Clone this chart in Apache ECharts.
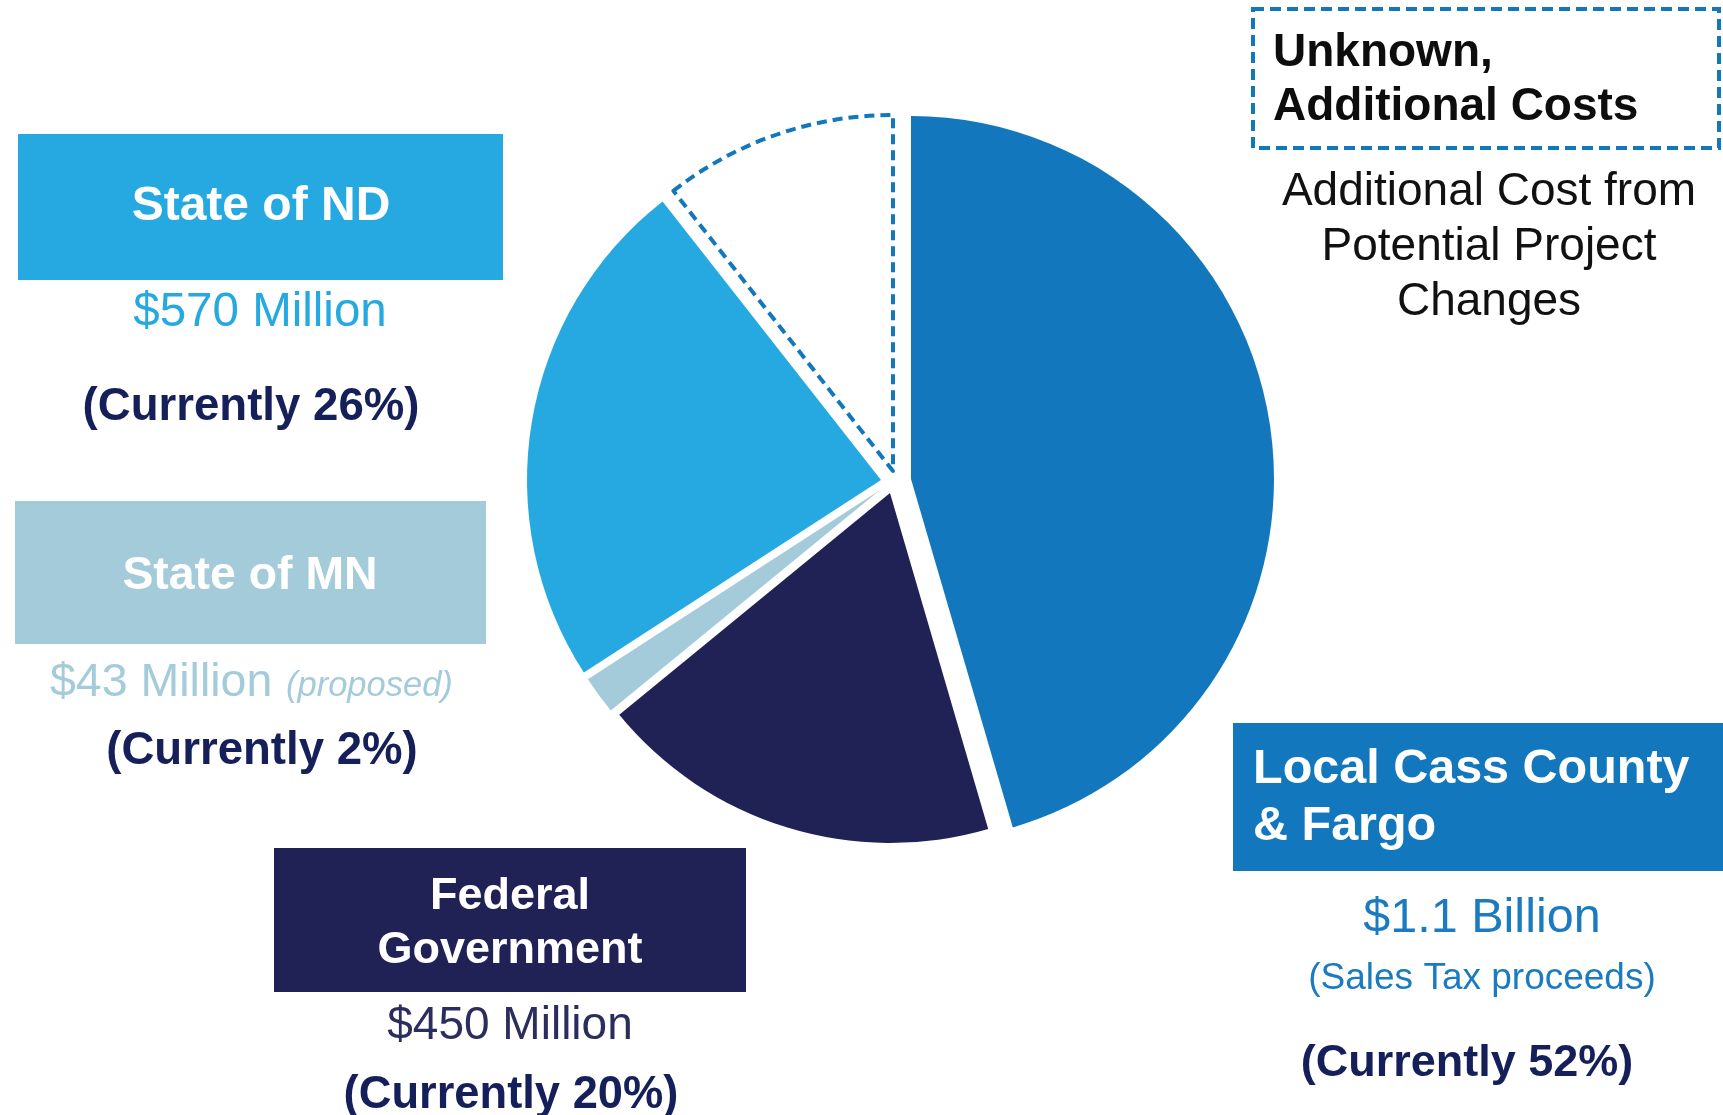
<!DOCTYPE html>
<html>
<head>
<meta charset="utf-8">
<script src="https://cdn.jsdelivr.net/npm/echarts@6/dist/echarts.min.js"></script>
<style>
  html, body { margin: 0; padding: 0; background: #ffffff; }
  #chart { width: 1723px; height: 1115px; }
</style>
</head>
<body>
<div id="chart"></div>
<script>
// ---- Data ----
const categories = ['Local Cass County & Fargo', 'Federal Government', 'State of MN', 'State of ND', 'Unknown, Additional Costs'];
// Funding in millions of dollars; the unknown slice is an estimate of its drawn share
const amountsMillions = [1100, 450, 43, 570, 256];
const boxTitles = ['Local Cass County\n& Fargo', 'Federal\nGovernment', 'State of MN', 'State of ND'];
const amountLabels = ['$1.1 Billion', '$450 Million', '$43 Million', '$570 Million'];
const currentShares = [52, 20, 2, 26];
const unknownTitle = 'Unknown,\nAdditional Costs';
const unknownNote = 'Additional Cost from\nPotential Project\nChanges';

// ---- Styles ----
const FONT = '"Liberation Sans", Arial, Helvetica, sans-serif';
const C_LOCAL = '#1277BD';
const C_FED = '#202256';
const C_MN = '#A4CBDA';
const C_ND = '#25A9E0';
const C_NAVY = '#151F5A';
const sliceColors = [C_LOCAL, C_FED, C_MN, C_ND, '#ffffff'];
// exploded-slice geometry (centre and radius of each drawn piece)
const sliceGeom = [
  { center: [911, 479], r: 363 },
  { center: [890, 493], r: 350 },
  { center: [880, 490], r: 348 },
  { center: [881, 480], r: 354 },
  { center: [893, 471], r: 356 }
];

function sliceStyle(i) {
  return i === 4
    ? { color: '#ffffff', borderColor: C_LOCAL, borderWidth: 4, borderType: [10, 6] }
    : { color: sliceColors[i], borderWidth: 0 };
}

// one pie per exploded piece; each uses the full data so the angles come from the values
const pieSeries = categories.map((_, k) => ({
  type: 'pie',
  center: sliceGeom[k].center,
  radius: [0, sliceGeom[k].r],
  startAngle: 90,
  clockwise: true,
  silent: true,
  label: { show: false },
  labelLine: { show: false },
  emphasis: { disabled: true },
  z: k === 4 ? 3 : 2,
  data: categories.map((name, i) => ({
    name: name,
    value: amountsMillions[i],
    itemStyle: i === k ? sliceStyle(i) : { color: 'rgba(0,0,0,0)', borderWidth: 0 }
  }))
}));

function txt(x, y, text, opts) {
  return {
    type: 'text',
    x: x, y: y,
    silent: true,
    style: Object.assign({
      text: text,
      fontFamily: FONT,
      fontSize: 46,
      fontWeight: 'normal',
      fill: '#000',
      align: 'center',
      verticalAlign: 'middle'
    }, opts)
  };
}
function box(x, y, w, h, fill) {
  return { type: 'rect', silent: true, shape: { x: x, y: y, width: w, height: h }, style: { fill: fill } };
}

const graphics = [
  // State of ND
  box(18, 134, 485, 146, C_ND),
  txt(261, 207, boxTitles[3], { fill: '#fff', fontWeight: 'bold', fontSize: 48 }),
  txt(260, 313, amountLabels[3], { fill: C_ND, fontSize: 47.5 }),
  txt(251, 407, '(Currently ' + currentShares[3] + '%)', { fill: C_NAVY, fontWeight: 'bold', fontSize: 45.6 }),
  // State of MN
  box(15, 501, 471, 143, C_MN),
  txt(250, 576, boxTitles[2], { fill: '#fff', fontWeight: 'bold', fontSize: 46.4 }),
  txt(50, 683, amountLabels[2], { fill: C_MN, fontSize: 46.5, align: 'left' }),
  txt(286, 686, '(proposed)', { fill: C_MN, fontSize: 34.5, fontStyle: 'italic', align: 'left' }),
  txt(262, 751, '(Currently ' + currentShares[2] + '%)', { fill: C_NAVY, fontWeight: 'bold', fontSize: 45.6 }),
  // Federal
  box(274, 848, 472, 144, C_FED),
  txt(510, 924, boxTitles[1], { fill: '#fff', fontWeight: 'bold', fontSize: 45, lineHeight: 54 }),
  txt(510, 1026, amountLabels[1], { fill: '#2B2D5C', fontSize: 46 }),
  txt(511, 1096, '(Currently ' + currentShares[1] + '%)', { fill: C_NAVY, fontWeight: 'bold', fontSize: 45.3 }),
  // Local
  box(1233, 723, 495, 148, C_LOCAL),
  txt(1253, 798, boxTitles[0], { fill: '#fff', fontWeight: 'bold', fontSize: 48.5, lineHeight: 57, align: 'left' }),
  txt(1482, 919, amountLabels[0], { fill: '#1B7BC0', fontSize: 48.5 }),
  txt(1482, 979, '(Sales Tax proceeds)', { fill: '#1B7BC0', fontSize: 37 }),
  txt(1467, 1064, '(Currently ' + currentShares[0] + '%)', { fill: C_NAVY, fontWeight: 'bold', fontSize: 45 }),
  // Unknown
  { type: 'rect', silent: true, shape: { x: 1253, y: 9, width: 466, height: 139 },
    style: { fill: 'none', stroke: C_LOCAL, lineWidth: 4, lineDash: [11, 6] } },
  txt(1273, 80, unknownTitle, { fill: '#0d0d0d', fontWeight: 'bold', fontSize: 46, lineHeight: 54, align: 'left' }),
  txt(1489, 247.5, unknownNote, { fill: '#111', fontSize: 46, lineHeight: 55 })
];

const chart = echarts.init(document.getElementById('chart'), null, { renderer: 'canvas' });
chart.setOption({
  animation: false,
  backgroundColor: '#ffffff',
  tooltip: { show: false },
  series: pieSeries,
  graphic: graphics
});
</script>
</body>
</html>
